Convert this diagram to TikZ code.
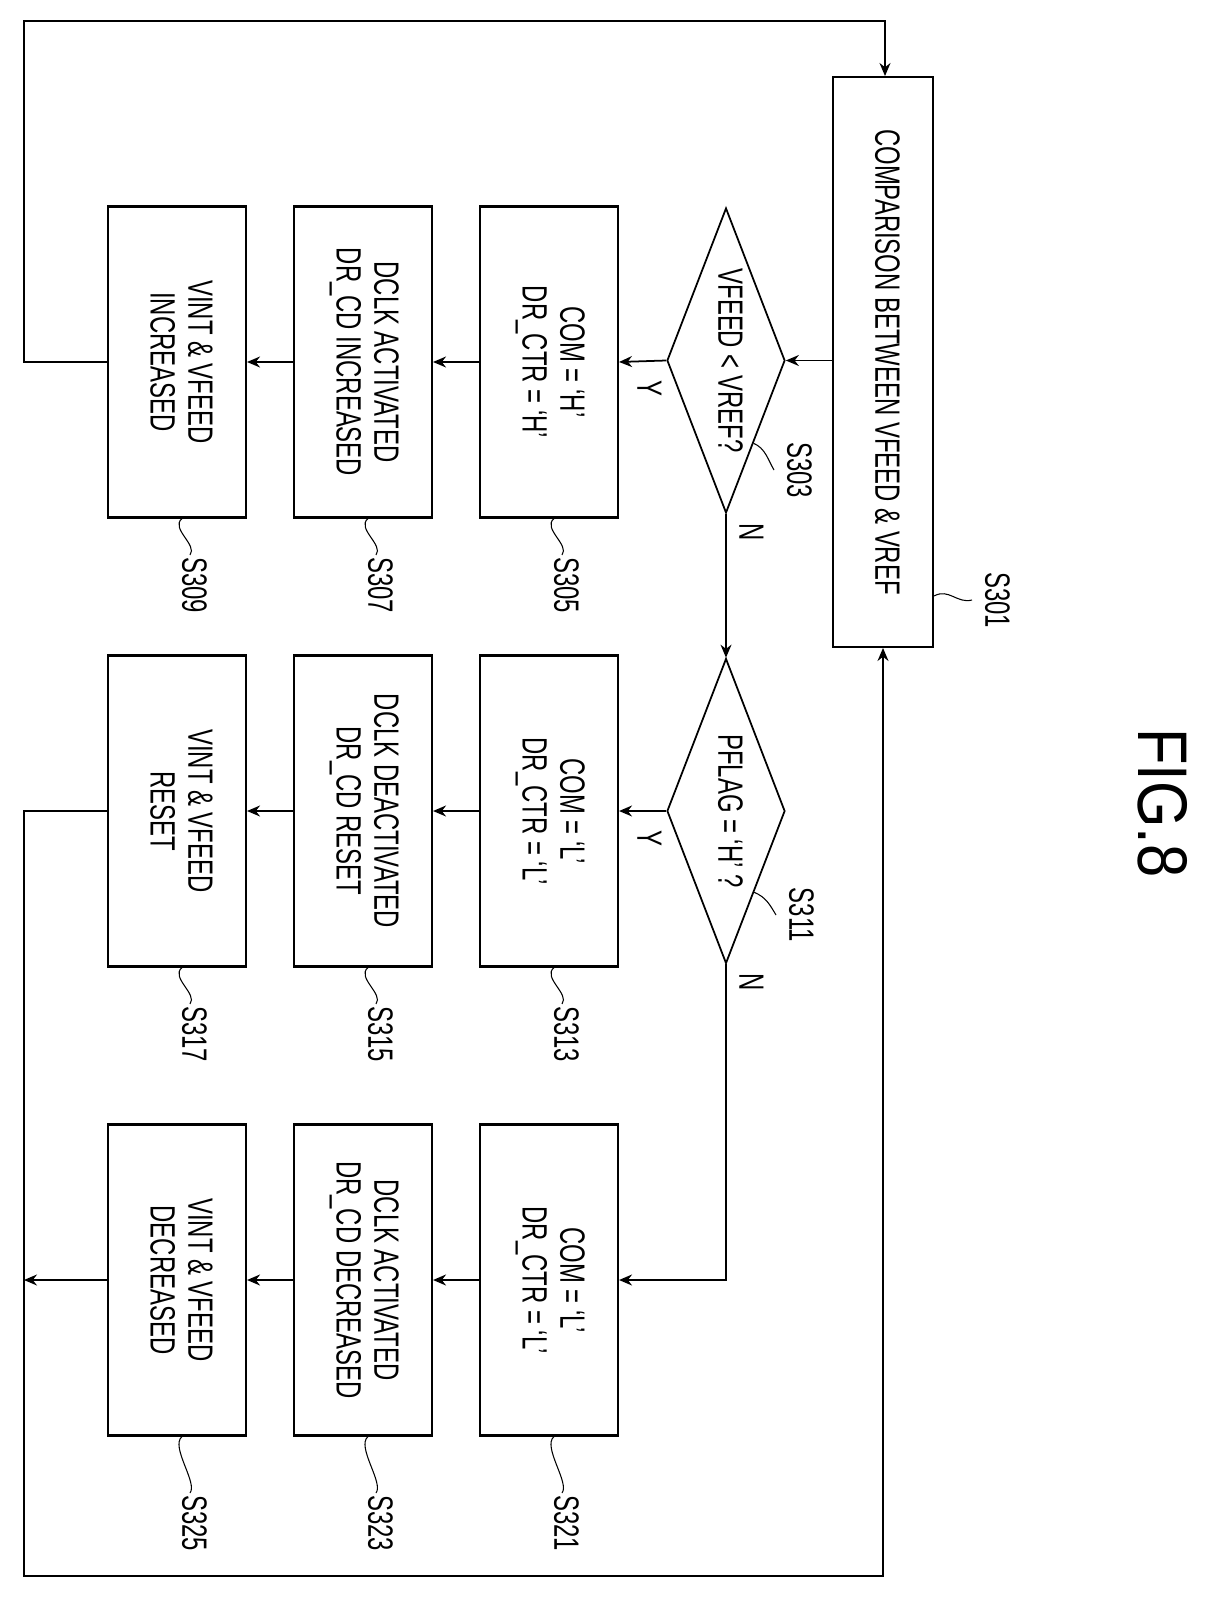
\documentclass[tikz,border=0pt]{standalone}
\usepackage{fontspec}
\setmainfont{Liberation Sans}[FakeStretch=0.68]
\newfontfamily\figfont{Liberation Sans}[FakeStretch=0.85]
\usepackage{graphicx}
\usetikzlibrary{arrows.meta,calc}
\usetikzlibrary{shapes.geometric}

% vertical (rotated) text
\newcommand{\vt}[1]{\rotatebox{-90}{\begin{tabular}{@{}c@{}}#1\end{tabular}}}

\tikzset{
  proc/.style={draw,line width=1.2pt,minimum width=2.76cm,minimum height=6.22cm,inner sep=0pt},
  dec/.style={draw,diamond,line width=1pt,inner sep=0pt,minimum width=2.36cm,minimum height=6.1cm},
  flow/.style={line width=1pt,-{Stealth[length=2.6mm,width=2.2mm]}},
  wire/.style={line width=1pt},
  lead/.style={line width=0.6pt},
  tag/.style={inner sep=1pt}
}

\begin{document}
\begin{tikzpicture}[x=0.02cm,y=-0.02cm,font=\fontsize{20}{21.5}\selectfont]

\useasboundingbox (0,0) rectangle (1210,1601);

% ========================
% FIRST COLUMN
% ========================

\node[draw,line width=1.2pt,minimum width=2cm,minimum height=11.4cm,inner sep=0pt] (s301) at (883,362)
  {\vt{COMPARISON BETWEEN VFEED \& VREF}};

\node[dec,label=center:{\vt{VFEED < VREF?}}] (d303) at (726,360.5) {};

\node[proc] (b305) at (549,362) {\vt{COM = `H'\\DR\_CTR = `H'}};
\node[proc] (b307) at (363,362) {\vt{DCLK ACTIVATED\\DR\_CD INCREASED}};
\node[proc] (b309) at (177,362) {\vt{VINT \& VFEED\\INCREASED}};

% ========================
% SECOND COLUMN
% ========================

\node[dec,label=center:{\vt{PFLAG = `H' ?}}] (d311) at (726,811) {};

\node[proc] (b313) at (549,811) {\vt{COM = `L'\\DR\_CTR = `L'}};
\node[proc] (b315) at (363,811) {\vt{DCLK DEACTIVATED\\DR\_CD RESET}};
\node[proc] (b317) at (177,811) {\vt{VINT \& VFEED\\RESET}};

% ========================
% THIRD COLUMN
% ========================

\node[proc] (b321) at (549,1280) {\vt{COM = `L'\\DR\_CTR = `L'}};
\node[proc] (b323) at (363,1280) {\vt{DCLK ACTIVATED\\DR\_CD DECREASED}};
\node[proc] (b325) at (177,1280) {\vt{VINT \& VFEED\\DECREASED}};

% loop corners
\coordinate (tl) at (24,21);
\coordinate (tr) at (885,21);
\coordinate (bl) at (24,1576);
\coordinate (br) at (883,1576);

% ========================
% CONNECTORS
% ========================

\draw[flow] (s301.west |- d303.east) -- (d303.east);
\draw[flow] (d303.west) -- (b305.east);
\draw[flow] (b305.west) -- (b307.east);
\draw[flow] (b307.west) -- (b309.east);
\draw[flow] (b309.west) -- (b309.west -| tl) |- (tr) -- (tr |- s301.north);

\draw[flow] (d303.south) -- (d311.north);
\draw[flow] (d311.west) -- (b313.east);
\draw[flow] (b313.west) -- (b315.east);
\draw[flow] (b315.west) -- (b317.east);
\draw[flow] (b317.west) -- (b317.west -| bl) |- (br) -- (br |- s301.south);

\draw[flow] (d311.south) |- (b321.east);
\draw[flow] (b321.west) -- (b323.east);
\draw[flow] (b323.west) -- (b325.east);
\draw[flow] (b325.west) -- (b325.west -| bl);

% Y / N
\node[tag] (y303) at (645,388) {\vt{Y}};
\node[tag] (n303) at (747,532) {\vt{N}};
\node[tag] (y311) at (645,838) {\vt{Y}};
\node[tag] (n311) at (747,982) {\vt{N}};

% ========================
% STEP LABELS
% ========================

\node[tag] (l301) at (993,600) {\vt{S301}};
\draw[lead] ([yshift=-4.68cm]s301.east) .. controls +(15,-8) and +(-15,4) .. (l301.west);

\node[tag] (l303) at (795,470) {\vt{S303}};
\draw[lead] ($(d303.east)!0.54!(d303.south)$) .. controls +(12,5) and +(-6,-10) .. (l303.west);

\node[tag] (l311) at (797,915) {\vt{S311}};
\draw[lead] ($(d311.east)!0.53!(d311.south)$) .. controls +(12,5) and +(-6,-10) .. (l311.west);

\node[tag] (l305) at (562,585) {\vt{S305}};
\node[tag] (l307) at (376,585) {\vt{S307}};
\node[tag] (l309) at (190,585) {\vt{S309}};
\node[tag] (l313) at (562,1034) {\vt{S313}};
\node[tag] (l315) at (376,1034) {\vt{S315}};
\node[tag] (l317) at (190,1034) {\vt{S317}};
\node[tag] (l321) at (562,1523) {\vt{S321}};
\node[tag] (l323) at (376,1523) {\vt{S323}};
\node[tag] (l325) at (190,1523) {\vt{S325}};

\foreach \n in {305,307,309,313,315,317,321,323,325}
  \draw[lead] ([xshift=0.1cm]b\n.south) .. controls +(-12,10) and +(8,-10) .. (l\n.north);

% figure title
\node (fig) at (1163,803) {\rotatebox{-90}{\figfont\fontsize{40}{40}\selectfont FIG.8}};

\end{tikzpicture}
\end{document}
